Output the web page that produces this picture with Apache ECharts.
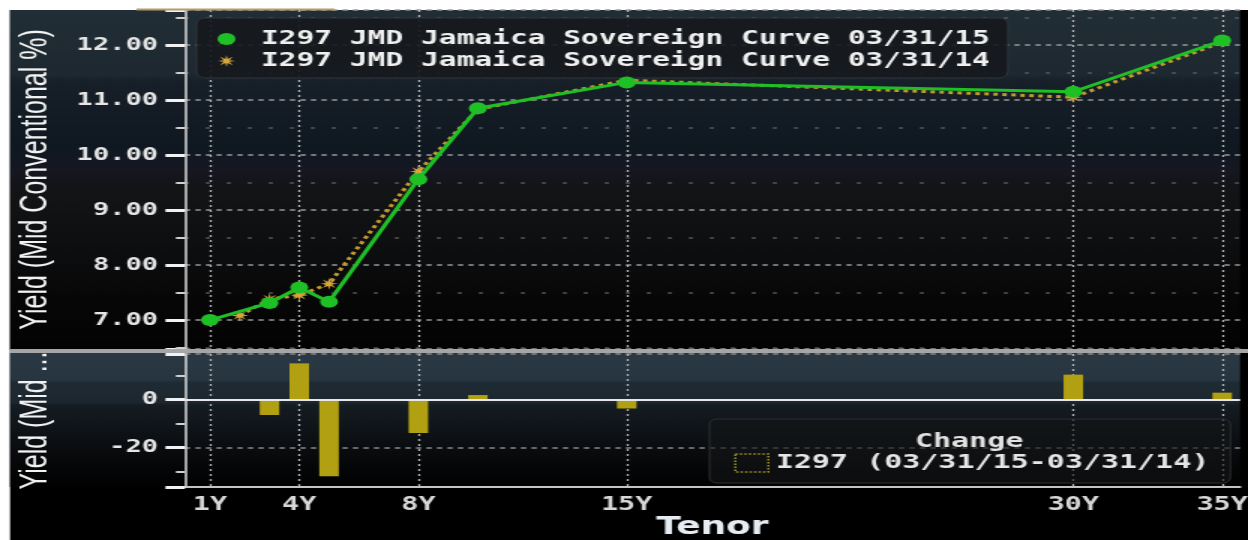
<!DOCTYPE html>
<html>
<head>
<meta charset="utf-8">
<title>I297 JMD Jamaica Sovereign Curve</title>
<script src="https://cdn.jsdelivr.net/npm/echarts@6.0.0/dist/echarts.min.js"></script>
<style>
    html, body { margin: 0; padding: 0; background: #fff; overflow: hidden; }
    /* the reference screenshot is stretched sideways, so draw narrow and stretch it */
    #curveChart { width: 832px; height: 540px; transform: scaleX(1.5); transform-origin: 0 0; }
</style>
</head>
<body>
<div id="curveChart"></div>
<script>
    // tenor ticks shown on the x axis (years)
    var tenorTicks = [1, 4, 8, 15, 30, 35];

    // curve 03/31/15
    var tenors15 = [1, 3, 4, 5, 8, 10, 15, 30, 35];
    var yields15 = [7.00, 7.31, 7.59, 7.33, 9.56, 10.85, 11.32, 11.15, 12.08];

    // curve 03/31/14
    var tenors14 = [2, 3, 4, 5, 8, 10, 15, 30, 35];
    var yields14 = [7.08, 7.38, 7.45, 7.66, 9.70, 10.83, 11.36, 11.05, 12.05];

    // change 15 - 14 (bp)
    var changeTenors = [3, 4, 5, 8, 10, 15, 30, 35];
    var changeBp = [-6.5, 15, -32, -14, 1.8, -3.8, 10.3, 2.8];

    var name15 = 'I297 JMD Jamaica Sovereign Curve 03/31/15';
    var name14 = 'I297 JMD Jamaica Sovereign Curve 03/31/14';
    var nameChg = 'I297 (03/31/15-03/31/14)';

    var mono = '"DejaVu Sans Mono", monospace';
    var starIcon = 'path://M20 10L13.2 11.3L17.1 17.1L11.3 13.2L10 20L8.7 13.2L2.9 17.1L6.8 11.3L0 10L6.8 8.7L2.9 2.9L8.7 6.8L10 0L11.3 6.8L17.1 2.9L13.2 8.7Z';

    function pairs(xs, ys) {
        return xs.map(function (x, i) { return [x, ys[i]]; });
    }

    function yAxisBase() {
        return {
            type: 'value',
            axisLine: { show: true, lineStyle: { color: '#d9d9d9', width: 1.5 } },
            axisTick: { show: true, length: 13, lineStyle: { color: '#f2f2f2', width: 3 } },
            minorTick: { show: true, splitNumber: 2, length: 6, lineStyle: { color: '#d0d0d0', width: 2 } },
            nameLocation: 'middle',
            nameGap: 87,
            nameTextStyle: { color: '#f2f2f2', fontFamily: '"Liberation Sans", Arial, sans-serif', fontSize: 25 }
        };
    }

    var labelStyle = { color: '#e6e6e6', fontFamily: mono, fontWeight: 'bold', fontSize: 18, margin: 18 };

    var topY = yAxisBase();
    Object.assign(topY, {
        gridIndex: 0, min: 6.473, max: 12.636, minInterval: 1, maxInterval: 1,
        name: 'Yield (Mid Conventional %)',
        axisLabel: Object.assign({
            formatter: function (v) { return Math.abs(v - Math.round(v)) < 1e-6 ? v.toFixed(2) : ''; }
        }, labelStyle),
        splitLine: { show: true, lineStyle: { color: '#9a9a9a', width: 1.5, type: [3.5, 3.5] } },
        minorSplitLine: { show: true, lineStyle: { color: '#5e5e5e', width: 1.5, type: [2.5, 11.5] } }
    });

    var bottomY = yAxisBase();
    Object.assign(bottomY, {
        gridIndex: 1, min: -36.5, max: 18.9, minInterval: 20, maxInterval: 20,
        name: 'Yield (Mid ...',
        axisLabel: Object.assign({
            formatter: function (v) { return Math.abs(v % 20) < 1e-6 ? String(v) : ''; }
        }, labelStyle),
        splitLine: { show: true, lineStyle: { color: '#8a8a8a', width: 1.5, type: [3.5, 3.5] } }
    });

    var gridDots = { show: true, lineStyle: { color: '#b4b4b4', width: 1.3, type: [2, 3] } };

    var chart = echarts.init(document.getElementById('curveChart'));

    chart.setOption({
        animation: false,
        textStyle: { fontFamily: mono },
        graphic: [
            { type: 'rect', z: -10, shape: { x: 6.7, y: 10, width: 826, height: 530 }, style: { fill: '#000' } },
            {
                type: 'rect', z: -9, shape: { x: 6.7, y: 10, width: 820, height: 340 },
                style: {
                    fill: {
                        type: 'linear', x: 0, y: 0, x2: 0, y2: 1,
                        colorStops: [
                            { offset: 0, color: '#222e36' }, { offset: 0.19, color: '#1d2830' },
                            { offset: 0.21, color: '#172028' }, { offset: 0.41, color: '#0f1821' },
                            { offset: 0.47, color: '#161721' }, { offset: 0.53, color: '#121416' },
                            { offset: 0.68, color: '#0e0f11' }, { offset: 0.85, color: '#070707' },
                            { offset: 1, color: '#030303' }
                        ]
                    }
                }
            },
            {
                type: 'rect', z: -9, shape: { x: 6.7, y: 353, width: 820, height: 134 },
                style: {
                    fill: {
                        type: 'linear', x: 0, y: 0, x2: 0, y2: 1,
                        colorStops: [
                            { offset: 0, color: '#2b3944' }, { offset: 0.2, color: '#273540' },
                            { offset: 0.22, color: '#1f2b34' }, { offset: 0.37, color: '#1c262e' },
                            { offset: 0.39, color: '#151c22' }, { offset: 0.6, color: '#0e1216' },
                            { offset: 0.85, color: '#050607' }, { offset: 1, color: '#020202' }
                        ]
                    }
                }
            },
            { type: 'rect', z: 5, shape: { x: 6.7, y: 349, width: 826, height: 4 }, style: { fill: '#a6a6a6' } },
            { type: 'rect', z: 5, shape: { x: 91, y: 8.5, width: 132, height: 2 }, style: { fill: '#b89b6c' } }
        ],
        title: {
            text: 'Change', left: 610, top: 432, padding: 0, z: 10,
            textStyle: { color: '#e2e2e2', fontFamily: mono, fontWeight: 'bold', fontSize: 20 }
        },
        legend: [
            {
                orient: 'vertical', left: 131, top: 18,
                padding: [11, 12, 7, 14], itemGap: 2,
                itemWidth: 36, itemHeight: 12,
                backgroundColor: 'rgba(22,25,29,0.92)', borderColor: '#30353b', borderWidth: 1, borderRadius: 6,
                data: [{ name: name15, icon: 'circle' }, { name: name14, icon: starIcon }],
                textStyle: { color: '#f0f0f0', fontFamily: mono, fontWeight: 'bold', fontSize: 19.7 }
            },
            {
                left: 473, top: 419,
                padding: [34, 14, 10, 16.5],
                itemWidth: 22, itemHeight: 18,
                backgroundColor: 'rgba(20,21,23,0.62)', borderColor: '#2c2f33', borderWidth: 1, borderRadius: 5,
                data: [{ name: nameChg, icon: 'rect' }],
                itemStyle: { color: 'rgba(0,0,0,0)', borderColor: '#a39320', borderWidth: 1.5, borderType: 'dotted' },
                textStyle: { color: '#e6e6e6', fontFamily: mono, fontWeight: 'bold', fontSize: 20 }
            }
        ],
        grid: [
            { left: 123.3, right: 5.3, top: 10, height: 339, outerBoundsMode: 'none' },
            { left: 123.3, right: 5.3, top: 354, height: 133, outerBoundsMode: 'none' }
        ],
        xAxis: [
            {
                type: 'value', gridIndex: 0, min: 0.16, max: 35.6,
                axisLine: { show: false },
                axisTick: { show: false, customValues: tenorTicks },
                axisLabel: { show: false, customValues: tenorTicks },
                splitLine: gridDots
            },
            {
                type: 'value', gridIndex: 1, min: 0.16, max: 35.6,
                axisLine: { show: true, onZero: false, lineStyle: { color: '#c4c4c4', width: 2 } },
                axisTick: { show: false, customValues: tenorTicks },
                axisLabel: {
                    customValues: tenorTicks, formatter: '{value}Y', margin: 9,
                    color: '#d8d8d8', fontFamily: mono, fontWeight: 'bold', fontSize: 19
                },
                splitLine: gridDots,
                name: 'Tenor', nameLocation: 'middle', nameGap: 26,
                nameTextStyle: { color: '#e6ecf2', fontFamily: '"DejaVu Sans", sans-serif', fontWeight: 'bold', fontSize: 24 }
            }
        ],
        yAxis: [topY, bottomY],
        series: [
            {
                name: name15, type: 'line', xAxisIndex: 0, yAxisIndex: 0, z: 4,
                data: pairs(tenors15, yields15),
                symbol: 'circle', symbolSize: 12,
                lineStyle: { color: '#1fbf26', width: 3 },
                itemStyle: { color: '#1fbf26' }
            },
            {
                name: name14, type: 'line', xAxisIndex: 0, yAxisIndex: 0, z: 3,
                data: pairs(tenors14, yields14),
                symbol: starIcon, symbolSize: 12,
                lineStyle: { color: '#c29a2e', width: 3, type: 'dotted' },
                itemStyle: { color: '#d7a53c' }
            },
            {
                name: nameChg, type: 'bar', xAxisIndex: 1, yAxisIndex: 1,
                data: pairs(changeTenors, changeBp),
                barWidth: 13,
                itemStyle: { color: '#b1a012' },
                markLine: {
                    silent: true, symbol: 'none', label: { show: false },
                    lineStyle: { color: '#e8e8e8', width: 2, type: 'solid' },
                    data: [{ yAxis: 0 }]
                }
            }
        ]
    });
</script>
</body>
</html>
